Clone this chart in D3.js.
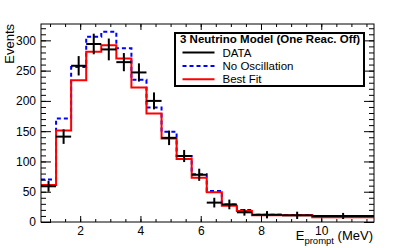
<!DOCTYPE html>
<html>
<head>
<meta charset="utf-8">
<script src="https://cdn.jsdelivr.net/npm/d3@7"></script>
<style>
  body { margin: 0; background: #fff; }
  text { font-family: "Liberation Sans", Arial, sans-serif; }
</style>
</head>
<body>
<script>
// bin edges (MeV) and contents
var edges = [0.7, 1.2, 1.7, 2.2, 2.7, 3.2, 3.7, 4.2, 4.7, 5.2, 5.7, 6.2, 6.7, 7.2, 7.7, 8.7, 9.7, 11.75];
var dataVals = [59, 141, 258, 294, 285, 264, 247, 200, 139, 109, 78, 32, 29, 16, 12, 11, 10];
var dataErr = [9, 12, 16, 17, 18, 15, 15, 14, 12, 10, 10, 8, 8, 5.5, 6, 6, 5];
var noOsc = [70, 171, 256, 306, 314, 287, 235, 189, 149, 109, 79, 51, 29, 20, 12, 11.5, 10];
var bestFit = [61, 151, 234, 281, 292, 270, 222, 179, 138, 104, 73, 49, 27, 18, 11, 11, 8];
var xTicks = [2, 4, 6, 8, 10];
var yTicks = [0, 50, 100, 150, 200, 250, 300];

var width = 415, height = 248;
var fLeft = 41, fRight = 374, fTop = 24, fBottom = 222;

var x = d3.scaleLinear().domain([0.7, 11.75]).range([fLeft, fRight]);
var y = d3.scaleLinear().domain([0, 327]).range([fBottom, fTop]);

var svg = d3.select("body").append("svg")
  .attr("width", width)
  .attr("height", height);

// step outline from bin contents
function steps(vals) {
  var pts = [];
  vals.forEach(function(v, i) {
    pts.push([x(edges[i]), y(v)]);
    pts.push([x(edges[i + 1]), y(v)]);
  });
  return d3.line()(pts);
}

var g = svg.append("g");

g.append("path")
  .attr("d", steps(noOsc))
  .attr("fill", "none")
  .attr("stroke", "#0000ff")
  .attr("stroke-width", 2)
  .attr("stroke-dasharray", "4,3");

g.append("path")
  .attr("d", steps(bestFit))
  .attr("fill", "none")
  .attr("stroke", "#ff0000")
  .attr("stroke-width", 2);

// data crosses
var pts = g.selectAll(".pt").data(dataVals).enter().append("g");
pts.append("line")
  .attr("x1", (d, i) => x(edges[i]))
  .attr("x2", (d, i) => x(edges[i + 1]))
  .attr("y1", d => y(d))
  .attr("y2", d => y(d))
  .attr("stroke", "#000").attr("stroke-width", 2);
pts.append("line")
  .attr("x1", (d, i) => x((edges[i] + edges[i + 1]) / 2))
  .attr("x2", (d, i) => x((edges[i] + edges[i + 1]) / 2))
  .attr("y1", (d, i) => y(d + dataErr[i]))
  .attr("y2", (d, i) => y(d - dataErr[i]))
  .attr("stroke", "#000").attr("stroke-width", 2);

// axes, ticks inward on all four sides
var xMinor = d3.range(1, 11.6, 0.5);
var yMinor = d3.range(0, 321, 10);

function styleAxis(sel) {
  sel.select(".domain").remove();
  sel.selectAll("line").attr("stroke", "#000");
  sel.selectAll("text").attr("font-size", 12).attr("fill", "#000")
    .attr("font-family", "Liberation Sans, Arial, sans-serif");
}

svg.append("g").attr("transform", "translate(0," + fBottom + ")")
  .call(d3.axisBottom(x).tickValues(xMinor).tickSize(-3).tickFormat(""))
  .call(styleAxis);
svg.append("g").attr("transform", "translate(0," + fBottom + ")")
  .call(d3.axisBottom(x).tickValues(xTicks).tickSize(-6).tickPadding(4).tickFormat(d3.format("d")))
  .call(styleAxis);
svg.append("g").attr("transform", "translate(0," + fTop + ")")
  .call(d3.axisTop(x).tickValues(xMinor).tickSize(-3).tickFormat(""))
  .call(styleAxis);
svg.append("g").attr("transform", "translate(0," + fTop + ")")
  .call(d3.axisTop(x).tickValues(xTicks).tickSize(-6).tickFormat(""))
  .call(styleAxis);

svg.append("g").attr("transform", "translate(" + fLeft + ",0)")
  .call(d3.axisLeft(y).tickValues(yMinor).tickSize(-5).tickFormat(""))
  .call(styleAxis);
svg.append("g").attr("transform", "translate(" + fLeft + ",0)")
  .call(d3.axisLeft(y).tickValues(yTicks).tickSize(-10).tickPadding(5))
  .call(styleAxis);
svg.append("g").attr("transform", "translate(" + fRight + ",0)")
  .call(d3.axisRight(y).tickValues(yMinor).tickSize(-5).tickFormat(""))
  .call(styleAxis);
svg.append("g").attr("transform", "translate(" + fRight + ",0)")
  .call(d3.axisRight(y).tickValues(yTicks).tickSize(-10).tickFormat(""))
  .call(styleAxis);

svg.append("rect")
  .attr("x", fLeft).attr("y", fTop)
  .attr("width", fRight - fLeft).attr("height", fBottom - fTop)
  .attr("fill", "none").attr("stroke", "#000").attr("stroke-width", 1);

// axis titles
svg.append("text")
  .attr("transform", "translate(14," + fTop + ") rotate(-90)")
  .attr("text-anchor", "end")
  .attr("font-size", 13)
  .text("Events");

var xt = svg.append("text")
  .attr("x", 373).attr("y", 240)
  .attr("text-anchor", "end")
  .attr("font-size", 13);
xt.append("tspan").text("E");
xt.append("tspan").attr("font-size", 9.5).attr("dy", 4).text("prompt");
xt.append("tspan").attr("dy", -4).text(" (MeV)");

// legend
var leg = svg.append("g");
leg.append("rect")
  .attr("x", 175).attr("y", 33).attr("width", 189).attr("height", 53)
  .attr("fill", "#fff").attr("stroke", "#000").attr("stroke-width", 2);
leg.append("text")
  .attr("x", 180).attr("y", 43)
  .attr("font-size", 11.5).attr("font-weight", "bold")
  .text("3 Neutrino Model (One Reac. Off)");

var entries = [
  { label: "DATA", color: "#000", dash: null },
  { label: "No Oscillation", color: "#0000ff", dash: "4,3" },
  { label: "Best Fit", color: "#ff0000", dash: null }
];
entries.forEach(function(e, i) {
  var yy = 52.5 + i * 13.4;
  leg.append("line")
    .attr("x1", 182.5).attr("x2", 214.5).attr("y1", yy).attr("y2", yy)
    .attr("stroke", e.color).attr("stroke-width", 2)
    .attr("stroke-dasharray", e.dash);
  leg.append("text")
    .attr("x", 222.5).attr("y", yy + 4)
    .attr("font-size", 11.5)
    .text(e.label);
});
</script>
</body>
</html>
